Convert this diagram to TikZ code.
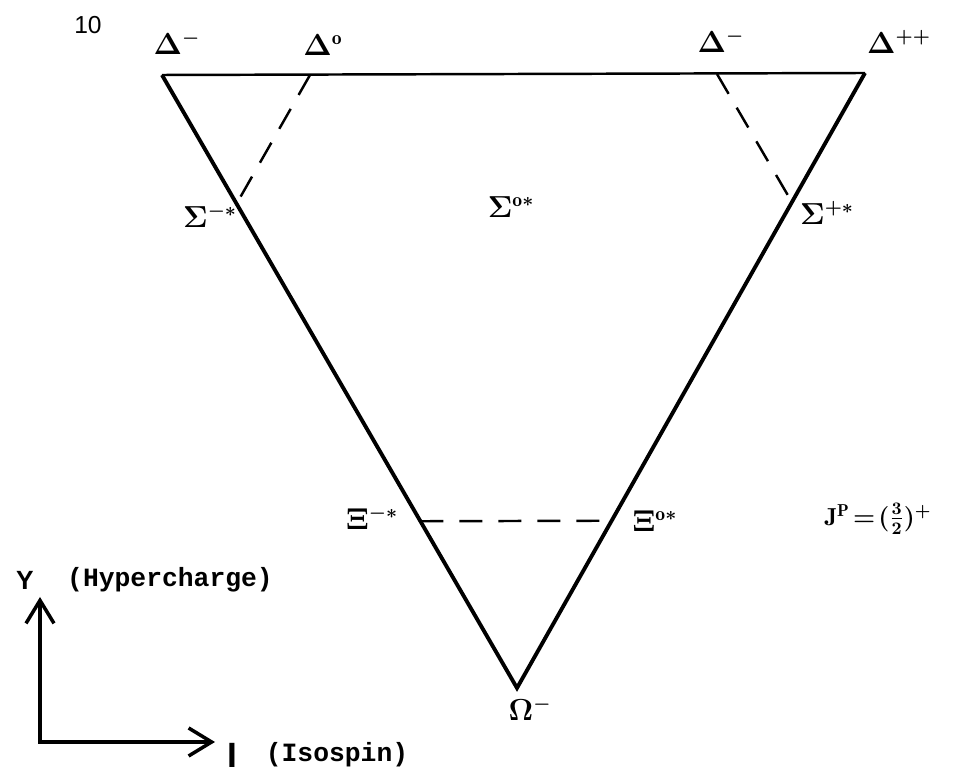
\documentclass[tikz,border=0pt]{standalone}
\usepackage{amsmath,amssymb}
\usepackage{fontspec}
\newfontfamily\typewr{Liberation Mono}
\newfontfamily\sansf{Liberation Sans}
\usetikzlibrary{arrows.meta,calc,positioning}

\begin{document}
\begin{tikzpicture}[x=0.02cm,y=-0.02cm,
every node/.style={inner sep=0pt, font=\fontsize{16}{18}\selectfont\boldmath},
edge/.style={line width=2.2pt, line join=miter},
link/.style={line width=1.4pt, dash pattern=on 0.46cm off 0.32cm},
axis/.style={line width=2pt, line join=miter,
  {Straight Barb[length=0.46cm, width=0.56cm]}-{Straight Barb[length=0.46cm, width=0.56cm]}},
word/.style={font=\fontsize{15}{17}\selectfont\typewr\bfseries}]
\useasboundingbox (0,0) rectangle (965,783);
\coordinate (DL) at (162,75);
\coordinate (DR) at (865,73);
\coordinate (Om) at (517,688);
\coordinate (D0) at (310,75);
\coordinate (D1) at (717,74);
\coordinate (SL) at ($(DL)!0.21!(Om)$);
\coordinate (SR) at ($(DR)!0.21!(Om)$);
\coordinate (XL) at ($(DL)!0.728!(Om)$);
\coordinate (XR) at ($(DR)!0.728!(Om)$);
\draw[line width=1.4pt] (DL)--(DR);
\draw[edge] (DL)--(Om)--(DR);
\draw[link] (D0)--(SL);
\draw[link] (D1)--(SR);
\draw[link] (XL)--(XR);
\node (tenlab) at (88,25) {\sansf\fontsize{14}{16}\selectfont 10};
\node (Dm) at (177,43) {$\Delta^-$};
\node (Dz) at (323,45) {$\Delta^{\mathrm{o}}$};
\node (Dp) at (721,41) {$\Delta^-$};
\node (Dpp) at (899,42) {$\Delta^{++}$};
\node (Sm) at (210,216) {$\Sigma^{-*}$};
\node (Sz) at (511,207) {$\Sigma^{\mathrm{o}*}$};
\node (Sp) at (827,213) {$\Sigma^{+*}$};
\node (Xm) at (372,518) {$\Xi^{-*}$};
\node (Xz) at (655,521) {$\Xi^{\mathrm{o}*}$};
\node (Omlab) at (530,709) {$\Omega^-$};
\node (spin) at (878,519) {\fontsize{14}{16}\selectfont$\mathrm{J}^{\mathrm{P}}\!=\!(\frac{3}{2})^+$};
\coordinate (O) at (40,742);
\coordinate (Ytip) at (40,597);
\coordinate (Itip) at (215,742);
\draw[axis] (Ytip)--(O)--(Itip);
\node (ylab) at (25,580) {\sansf\bfseries\fontsize{15}{17}\selectfont Y};
\node[word] (hyper) at (170,580) {(Hypercharge)};
\node (ilab) at (232,755) {\sansf\bfseries\fontsize{20}{22}\selectfont I};
\node[word] (iso) at (337,755) {(Isospin)};
\end{tikzpicture}
\end{document}
